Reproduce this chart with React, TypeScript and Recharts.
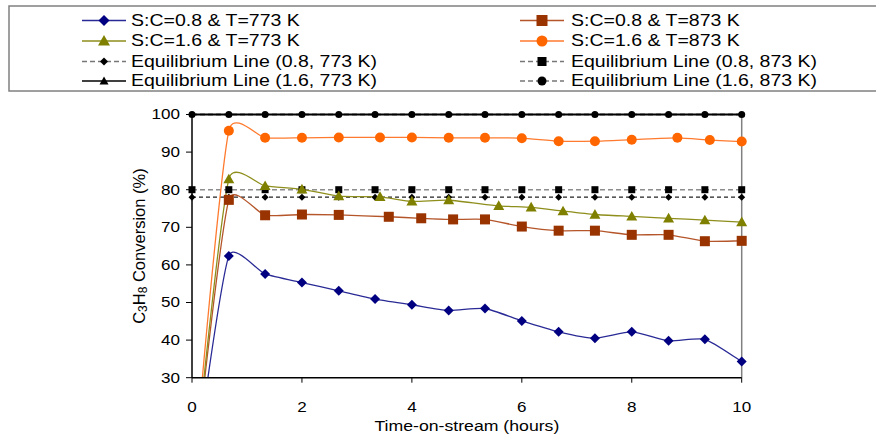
import { LineChart, Line, XAxis, YAxis, ReferenceLine } from 'recharts';

const FONT = '"Liberation Sans", Arial, sans-serif';
const STRETCH = 1.22;

// time-on-stream (h) and conversion (%)
const tBlue = [0, 0.67, 1.33, 2, 2.67, 3.33, 4, 4.67, 5.33, 6, 6.67, 7.33, 8, 8.67, 9.33, 10];
const convBlue = [0, 62.4, 57.6, 55.3, 53.1, 50.9, 49.4, 47.9, 48.4, 45.1, 42.2, 40.5, 42.2, 39.8, 40.2, 34.3];
const tBrown = [0, 0.67, 1.33, 2, 2.67, 3.58, 4.17, 4.75, 5.33, 6, 6.67, 7.33, 8, 8.67, 9.33, 10];
const convBrown = [0, 77.3, 73.2, 73.4, 73.3, 72.8, 72.4, 72.1, 72.1, 70.2, 69.1, 69.1, 68.0, 68.0, 66.3, 66.4];
const tOlive = [0, 0.67, 1.33, 2, 2.67, 3.42, 4, 4.67, 5.58, 6.17, 6.75, 7.33, 8, 8.67, 9.33, 10];
const convOlive = [0, 82.8, 81.0, 80.1, 78.3, 78.1, 76.9, 77.2, 75.7, 75.3, 74.3, 73.4, 72.9, 72.4, 71.9, 71.4];
const tOrange = [0, 0.67, 1.33, 2, 2.67, 3.42, 4, 4.67, 5.33, 6, 6.67, 7.33, 8, 8.83, 9.42, 10];
const convOrange = [0, 95.7, 93.8, 93.8, 93.9, 93.9, 93.9, 93.8, 93.8, 93.7, 92.9, 92.9, 93.3, 93.8, 93.2, 92.8];

const tEq = [0, 0.67, 1.33, 2, 2.67, 3.33, 4, 4.67, 5.33, 6, 6.67, 7.33, 8, 8.67, 9.33, 10];
const eq08_773 = [78, 78, 78, 78, 78, 78, 78, 78, 78, 78, 78, 78, 78, 78, 78, 78];
const eq08_873 = [80, 80, 80, 80, 80, 80, 80, 80, 80, 80, 80, 80, 80, 80, 80, 80];
const eq16_773 = [100, 100, 100, 100, 100, 100, 100, 100, 100, 100, 100, 100, 100, 100, 100, 100];
const eq16_873 = [100, 100, 100, 100, 100, 100, 100, 100, 100, 100, 100, 100, 100, 100, 100, 100];

const xTicks = [0, 2, 4, 6, 8, 10];
const yTicks = [30, 40, 50, 60, 70, 80, 90, 100];

const toRows = (ts: number[], vs: number[]) => ts.map((t, i) => ({ t, v: vs[i] }));

// Excel-like smoothed line: catmull-rom, tangents damped on uneven segments
const excelSmooth = (context: any) => {
  let pts: number[][] = [];
  const w = (dSeg: number, dOther: number) => 0.6 * (1 / 12 + dSeg / (6 * (dSeg + dOther)));
  return {
    areaStart() {},
    areaEnd() {},
    lineStart() {
      pts = [];
    },
    point(x: number, y: number) {
      pts.push([+x, +y]);
    },
    lineEnd() {
      const n = pts.length;
      if (!n) return;
      context.moveTo(pts[0][0], pts[0][1]);
      for (let i = 0; i < n - 1; i++) {
        const p1 = pts[i];
        const p2 = pts[i + 1];
        const p0 = i > 0 ? pts[i - 1] : null;
        const p3 = i < n - 2 ? pts[i + 2] : null;
        const d12 = Math.hypot(p2[0] - p1[0], p2[1] - p1[1]);
        let c1 = [p1[0] + (p2[0] - p1[0]) / 6, p1[1] + (p2[1] - p1[1]) / 6];
        let c2 = [p2[0] - (p2[0] - p1[0]) / 6, p2[1] - (p2[1] - p1[1]) / 6];
        if (p0) {
          const f = w(d12, Math.hypot(p1[0] - p0[0], p1[1] - p0[1]));
          c1 = [p1[0] + (p2[0] - p0[0]) * f, p1[1] + (p2[1] - p0[1]) * f];
        }
        if (p3) {
          const f = w(d12, Math.hypot(p3[0] - p2[0], p3[1] - p2[1]));
          c2 = [p2[0] - (p3[0] - p1[0]) * f, p2[1] - (p3[1] - p1[1]) * f];
        }
        context.bezierCurveTo(c1[0], c1[1], c2[0], c2[1], p2[0], p2[1]);
      }
    },
  };
};

type Kind = 'diamond' | 'square' | 'triangle' | 'circle';

function Marker({ kind, cx, cy, size, fill, stroke }: { kind: Kind; cx: number; cy: number; size: number; fill: string; stroke?: string }) {
  const h = size / 2;
  const common = { fill, stroke: stroke || 'none', strokeWidth: 0.8 };
  if (kind === 'circle') return <circle cx={cx} cy={cy} r={h} {...common} />;
  if (kind === 'square') return <rect x={cx - h} y={cy - h} width={size} height={size} {...common} />;
  if (kind === 'diamond')
    return <polygon points={`${cx},${cy - h} ${cx + h},${cy} ${cx},${cy + h} ${cx - h},${cy}`} {...common} />;
  return <polygon points={`${cx},${cy - h} ${cx + h},${cy + h * 0.75} ${cx - h},${cy + h * 0.75}`} {...common} />;
}

const dotOf = (kind: Kind, size: number, fill: string, stroke?: string) => (p: any) => {
  if (p.cx == null || p.cy == null) return <g key={`${kind}-${p.index}`} />;
  return <Marker key={`${kind}-${p.index}`} kind={kind} cx={p.cx} cy={p.cy} size={size} fill={fill} stroke={stroke} />;
};

const runs = [
  { id: 'blue', name: 'S:C=0.8 & T=773 K', t: tBlue, v: convBlue, line: '#2a2a96', fill: '#000080', kind: 'diamond' as Kind, size: 10 },
  { id: 'brown', name: 'S:C=0.8 & T=873 K', t: tBrown, v: convBrown, line: '#b5552a', fill: '#993300', kind: 'square' as Kind, size: 10 },
  { id: 'olive', name: 'S:C=1.6 & T=773 K', t: tOlive, v: convOlive, line: '#8e8e1c', fill: '#808000', kind: 'triangle' as Kind, size: 11 },
  { id: 'orange', name: 'S:C=1.6 & T=873 K', t: tOrange, v: convOrange, line: '#ff7a2e', fill: '#ff6600', kind: 'circle' as Kind, size: 10 },
];

const eqLines = [
  { id: 'eq16_773', name: 'Equilibrium Line (1.6, 773 K)', v: eq16_773, line: '#000000', dash: undefined, width: 2, kind: 'triangle' as Kind, size: 6 },
  { id: 'eq16_873', name: 'Equilibrium Line (1.6, 873 K)', v: eq16_873, line: '#000000', dash: '5 3', width: 1.5, kind: 'circle' as Kind, size: 7 },
  { id: 'eq08_873', name: 'Equilibrium Line (0.8, 873 K)', v: eq08_873, line: '#8c8c8c', dash: '5 3', width: 1.5, kind: 'square' as Kind, size: 7 },
  { id: 'eq08_773', name: 'Equilibrium Line (0.8, 773 K)', v: eq08_773, line: '#222222', dash: '4 3', width: 1.2, kind: 'diamond' as Kind, size: 7 },
];

const legendCols = [
  [
    { name: runs[0].name, line: runs[0].line, dash: undefined, kind: runs[0].kind, fill: runs[0].fill, size: 11 },
    { name: runs[2].name, line: runs[2].line, dash: undefined, kind: runs[2].kind, fill: runs[2].fill, size: 12 },
    { name: eqLines[3].name, line: '#777777', dash: '5 3', kind: eqLines[3].kind, fill: '#000', size: 8 },
    { name: eqLines[0].name, line: '#000000', dash: undefined, kind: eqLines[0].kind, fill: '#000', size: 9 },
  ],
  [
    { name: runs[1].name, line: runs[1].line, dash: undefined, kind: runs[1].kind, fill: runs[1].fill, size: 11 },
    { name: runs[3].name, line: runs[3].line, dash: undefined, kind: runs[3].kind, fill: runs[3].fill, size: 11 },
    { name: eqLines[2].name, line: '#777777', dash: '5 3', kind: eqLines[2].kind, fill: '#000', size: 9 },
    { name: eqLines[1].name, line: '#777777', dash: '5 3', kind: eqLines[1].kind, fill: '#000', size: 9 },
  ],
];

function WideText({ x, y, anchor, size, children }: any) {
  return (
    <text
      transform={`translate(${x} ${y}) scale(${STRETCH} 1)`}
      textAnchor={anchor}
      dominantBaseline="central"
      fontSize={size}
      fontFamily={FONT}
      fill="#000"
    >
      {children}
    </text>
  );
}

const YTick = ({ x, y, payload }: any) => (
  <WideText x={x} y={y} anchor="end" size={14}>
    {payload.value}
  </WideText>
);

const XTick = ({ x, y, payload }: any) => (
  <WideText x={x} y={y + 22} anchor="middle" size={14}>
    {payload.value}
  </WideText>
);

const YTitle = ({ viewBox }: any) => {
  const cx = viewBox.x + 7;
  const cy = viewBox.y + viewBox.height / 2;
  return (
    <text
      transform={`translate(${cx} ${cy}) rotate(-90)`}
      textAnchor="middle"
      dominantBaseline="central"
      fontSize={16.5}
      fontFamily={FONT}
      fill="#000"
    >
      C<tspan fontSize={12} dy={3.5}>3</tspan>
      <tspan dy={-3.5}>H</tspan>
      <tspan fontSize={12} dy={3.5}>8</tspan>
      <tspan dy={-3.5}> Conversion (%)</tspan>
    </text>
  );
};

const XTitle = ({ viewBox }: any) => (
  <WideText x={viewBox.x + viewBox.width / 2} y={viewBox.y + 48} anchor="middle" size={14.5}>
    Time-on-stream (hours)
  </WideText>
);

function Legend() {
  const colX = [82, 520];
  const textX = [131, 571];
  const rowY = [20.5, 41, 61.5, 81];
  return (
    <svg width={876} height={100} style={{ position: 'absolute', left: 0, top: 0 }}>
      <rect x={9} y={6} width={880} height={85} fill="#fff" stroke="#808080" strokeWidth={1.5} />
      {legendCols.map((col, ci) =>
        col.map((it, ri) => (
          <g key={`${ci}-${ri}`}>
            <line
              x1={colX[ci]}
              x2={colX[ci] + 44}
              y1={rowY[ri]}
              y2={rowY[ri]}
              stroke={it.line}
              strokeWidth={1.5}
              strokeDasharray={it.dash}
            />
            <Marker kind={it.kind} cx={colX[ci] + 22} cy={rowY[ri]} size={it.size} fill={it.fill} />
            <WideText x={textX[ci]} y={rowY[ri]} anchor="start" size={16}>
              {it.name}
            </WideText>
          </g>
        ))
      )}
    </svg>
  );
}

export default function App() {
  return (
    <div style={{ position: 'fixed', left: 0, top: 0, width: 876, height: 439, background: '#fff' }}>
      <LineChart width={876} height={439} margin={{ top: 114.5, right: 134.3, left: 132, bottom: 31.3 }}>
        <XAxis
          dataKey="t"
          type="number"
          domain={[0, 10]}
          ticks={xTicks}
          tick={<XTick />}
          tickSize={5}
          height={30}
          axisLine={{ stroke: '#000', strokeWidth: 1.5 }}
          tickLine={{ stroke: '#000', strokeWidth: 1 }}
          label={<XTitle />}
        />
        <YAxis
          yAxisId="exp"
          type="number"
          domain={[30, 100]}
          ticks={yTicks}
          allowDataOverflow
          width={60}
          tick={<YTick />}
          tickSize={6}
          tickMargin={6}
          axisLine={{ stroke: '#000', strokeWidth: 1.5 }}
          tickLine={{ stroke: '#000', strokeWidth: 1 }}
          label={<YTitle />}
        />
        <YAxis yAxisId="eq" type="number" domain={[30, 100]} hide width={0} />
        <ReferenceLine yAxisId="eq" x={10} stroke="#808080" strokeWidth={1.5} />
        {eqLines.map((e) => (
          <Line
            key={e.id}
            yAxisId="eq"
            data={toRows(tEq, e.v)}
            dataKey="v"
            type="linear"
            stroke={e.line}
            strokeWidth={e.width}
            strokeDasharray={e.dash}
            dot={dotOf(e.kind, e.size, '#000')}
            activeDot={false}
            isAnimationActive={false}
          />
        ))}
        {runs.map((r) => (
          <Line
            key={r.id}
            yAxisId="exp"
            data={toRows(r.t, r.v)}
            dataKey="v"
            type={excelSmooth as any}
            stroke={r.line}
            strokeWidth={1.3}
            dot={dotOf(r.kind, r.size, r.fill)}
            activeDot={false}
            isAnimationActive={false}
          />
        ))}
      </LineChart>
      <Legend />
    </div>
  );
}
